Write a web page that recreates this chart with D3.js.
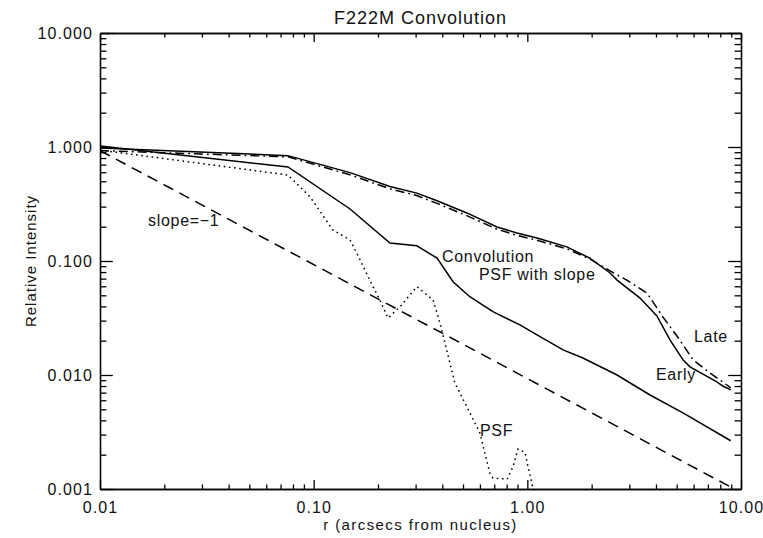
<!DOCTYPE html>
<html>
<head>
<meta charset="utf-8">
<script src="https://cdn.jsdelivr.net/npm/d3@7"></script>
<style>
  body { margin: 0; background: #fff; }
  text { font-family: "Liberation Sans", Arial, sans-serif; fill: #111; }
</style>
</head>
<body>
<div id="chart"></div>
<script>
// Data (r in arcsec, relative intensity)
var earlyR = [0.010, 0.0758, 0.148, 0.2275, 0.304, 0.378, 0.521, 0.721, 0.894, 1.11, 1.53, 1.96, 2.44, 2.63, 3.37, 4.04, 4.65, 5.35, 5.77, 7.71, 8.22, 8.95];
var earlyI = [0.98, 0.84, 0.596, 0.451, 0.394, 0.338, 0.264, 0.199, 0.176, 0.159, 0.133, 0.106, 0.0785, 0.068, 0.0473, 0.033, 0.0203, 0.0136, 0.0118, 0.0087, 0.0080, 0.0074];

var lateR = [0.010, 0.0758, 0.148, 0.2275, 0.304, 0.378, 0.521, 0.721, 0.894, 1.11, 1.53, 1.96, 2.44, 2.92, 3.63, 4.31, 5.17, 5.96, 7.15, 8.22, 8.95];
var lateI = [0.93, 0.82, 0.57, 0.43, 0.375, 0.32, 0.25, 0.19, 0.168, 0.152, 0.128, 0.104, 0.082, 0.068, 0.0524, 0.0323, 0.0203, 0.0136, 0.0104, 0.0087, 0.0077];

var convR = [0.010, 0.0758, 0.148, 0.2275, 0.304, 0.378, 0.449, 0.538, 0.690, 0.923, 1.11, 1.47, 1.82, 2.63, 3.75, 5.35, 8.95];
var convI = [1.02, 0.668, 0.286, 0.144, 0.136, 0.106, 0.0658, 0.0486, 0.0359, 0.0275, 0.0225, 0.0166, 0.0141, 0.0100, 0.00668, 0.00465, 0.00265];

var psfR = [0.010, 0.0758, 0.0961, 0.123, 0.148, 0.165, 0.183, 0.204, 0.223, 0.2535, 0.304, 0.362, 0.390, 0.458, 0.600, 0.668, 0.690, 0.804, 0.857, 0.904, 0.975, 1.007, 1.05, 1.06];
var psfI = [0.94, 0.568, 0.366, 0.187, 0.153, 0.102, 0.068, 0.0455, 0.0316, 0.0397, 0.0596, 0.0455, 0.0286, 0.0085, 0.0031, 0.00137, 0.00125, 0.00122, 0.00157, 0.00224, 0.0021, 0.00157, 0.00113, 0.001];

var slopeR = [0.01, 8.95];
var slopeI = [0.93, 0.00104];

var xTicks = [0.01, 0.1, 1, 10];
var xTickLabels = ["0.01", "0.10", "1.00", "10.00"];
var yTicks = [0.001, 0.01, 0.1, 1, 10];
var yTickLabels = ["0.001", "0.010", "0.100", "1.000", "10.000"];

var margin = {top: 33, right: 22, bottom: 49, left: 100};
var W = 763, H = 538;
var width = W - margin.left - margin.right;
var height = H - margin.top - margin.bottom;

var svg = d3.select("#chart").append("svg")
    .attr("width", W)
    .attr("height", H);

var g = svg.append("g")
    .attr("transform", "translate(" + margin.left + "," + margin.top + ")");

var x = d3.scaleLog().domain([0.01, 10]).range([0, width]);
var y = d3.scaleLog().domain([0.001, 10]).range([height, 0]);

// minor ticks 2..9 in every decade
function minors(lo, hi) {
    var out = [];
    for (var d = lo; d < hi; d *= 10) {
        for (var k = 2; k <= 9; k++) out.push(d * k);
    }
    return out;
}
var xMinor = minors(0.01, 10);
var yMinor = minors(0.001, 10);

var xMajLen = 0.02 * height, yMajLen = 0.02 * width;

// bottom axis
g.append("g")
    .attr("class", "x_axis")
    .attr("transform", "translate(0," + height + ")")
    .call(d3.axisBottom(x).tickValues(xTicks)
        .tickFormat(function(d, i) { return xTickLabels[i]; })
        .tickSizeInner(-xMajLen).tickSizeOuter(0).tickPadding(13));
g.append("g")
    .attr("transform", "translate(0," + height + ")")
    .call(d3.axisBottom(x).tickValues(xMinor).tickFormat("")
        .tickSizeInner(-xMajLen / 2).tickSizeOuter(0));
// top axis
g.append("g")
    .call(d3.axisTop(x).tickValues(xTicks).tickFormat("")
        .tickSizeInner(-xMajLen).tickSizeOuter(0));
g.append("g")
    .call(d3.axisTop(x).tickValues(xMinor).tickFormat("")
        .tickSizeInner(-xMajLen / 2).tickSizeOuter(0));
// left axis
g.append("g")
    .attr("class", "y_axis")
    .call(d3.axisLeft(y).tickValues(yTicks)
        .tickFormat(function(d, i) { return yTickLabels[i]; })
        .tickSizeInner(-yMajLen).tickSizeOuter(0).tickPadding(7));
g.append("g")
    .call(d3.axisLeft(y).tickValues(yMinor).tickFormat("")
        .tickSizeInner(-yMajLen / 2).tickSizeOuter(0));
// right axis
g.append("g")
    .attr("transform", "translate(" + width + ",0)")
    .call(d3.axisRight(y).tickValues(yTicks).tickFormat("")
        .tickSizeInner(-yMajLen).tickSizeOuter(0));
g.append("g")
    .attr("transform", "translate(" + width + ",0)")
    .call(d3.axisRight(y).tickValues(yMinor).tickFormat("")
        .tickSizeInner(-yMajLen / 2).tickSizeOuter(0));

g.selectAll(".domain, .tick line")
    .attr("stroke", "#000")
    .attr("stroke-width", 1.3);
g.selectAll(".tick text")
    .style("font-size", "16px")
    .style("letter-spacing", "1.1px")
    .attr("fill", "#111");

// clip
svg.append("clipPath").attr("id", "clip")
    .append("rect").attr("width", width).attr("height", height);

var line = d3.line()
    .x(function(d) { return x(d[0]); })
    .y(function(d) { return y(d[1]); });

function addSeries(rs, is, dash) {
    g.append("path")
        .datum(rs.map(function(r, i) { return [r, is[i]]; }))
        .attr("clip-path", "url(#clip)")
        .attr("fill", "none")
        .attr("stroke", "#000")
        .attr("stroke-width", 1.5)
        .attr("stroke-dasharray", dash)
        .attr("d", line);
}

addSeries(slopeR, slopeI, "11,7");
addSeries(psfR, psfI, "1.6,3.6");
addSeries(lateR, lateI, "9,4,1.8,4");
addSeries(earlyR, earlyI, null);
addSeries(convR, convI, null);

// labels on the curves
var notes = [
    {t: "slope=\u22121", x: 148, y: 226},
    {t: "Convolution", x: 442, y: 262},
    {t: "PSF with slope", x: 479, y: 280},
    {t: "Late", x: 694, y: 342},
    {t: "Early", x: 656, y: 380},
    {t: "PSF", x: 480, y: 436}
];
svg.selectAll(".note")
    .data(notes)
    .enter()
    .append("text")
    .attr("class", "note")
    .attr("x", function(d) { return d.x; })
    .attr("y", function(d) { return d.y; })
    .style("font-size", "16px")
    .style("letter-spacing", "0.7px")
    .text(function(d) { return d.t; });

// title and axis titles
svg.append("text")
    .attr("x", margin.left + width / 2)
    .attr("y", 24)
    .attr("text-anchor", "middle")
    .style("font-size", "18px")
    .style("letter-spacing", "1px")
    .text("F222M Convolution");

svg.append("text")
    .attr("x", margin.left + width / 2)
    .attr("y", 530)
    .attr("text-anchor", "middle")
    .style("font-size", "15px")
    .style("letter-spacing", "1.4px")
    .text("r (arcsecs from nucleus)");

svg.append("text")
    .attr("transform", "translate(36," + (margin.top + height / 2) + ") rotate(-90)")
    .attr("text-anchor", "middle")
    .style("font-size", "15px")
    .style("letter-spacing", "1px")
    .text("Relative Intensity");
</script>
</body>
</html>
